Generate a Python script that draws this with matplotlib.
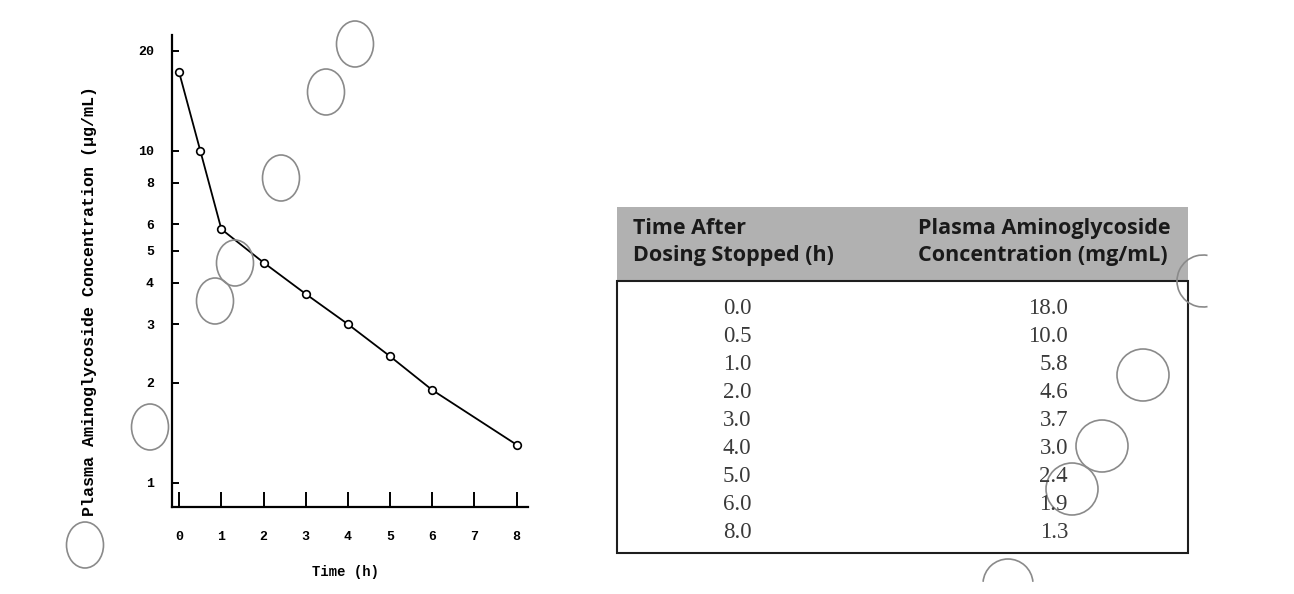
import matplotlib
matplotlib.use("Agg")
import matplotlib.pyplot as plt
from matplotlib.patches import Ellipse, Arc, Rectangle

# --- data ---
time_h = [0.0, 0.5, 1.0, 2.0, 3.0, 4.0, 5.0, 6.0, 8.0]
conc_plot = [17.2, 10.0, 5.8, 4.6, 3.7, 3.0, 2.4, 1.9, 1.3]   # as drawn on the graph
conc_table = [18.0, 10.0, 5.8, 4.6, 3.7, 3.0, 2.4, 1.9, 1.3]  # as listed in the table
x_ticks = [0, 1, 2, 3, 4, 5, 6, 7, 8]
y_ticks = [1, 2, 3, 4, 5, 6, 8, 10, 20]
table_header = ["Time After\nDosing Stopped (h)",
                "Plasma Aminoglycoside\nConcentration (mg/mL)"]

W, H = 1294, 594
fig = plt.figure(figsize=(W / 100, H / 100), dpi=100)
mono = "Liberation Mono"

# --- semilog plot ---
ax = fig.add_axes([172 / W, 1 - 507 / H, 356 / W, 472 / H])
ax.plot(time_h, conc_plot, color="black", lw=1.3, marker="o", ms=5.5,
        mfc="white", mec="black", mew=1.2)
ax.set_yscale("log")
ax.set_xlim(-0.17, 8.27)
ax.set_ylim(0.844, 22.3)
ax.set_xticks(x_ticks)
ax.set_xticklabels([str(v) for v in x_ticks])
ax.set_yticks(y_ticks)
ax.set_yticklabels([str(v) for v in y_ticks])
ax.minorticks_off()
ax.spines["top"].set_visible(False)
ax.spines["right"].set_visible(False)
for s in ("left", "bottom"):
    ax.spines[s].set_linewidth(1.6)
ax.tick_params(axis="x", direction="in", length=11, width=1.4, pad=17)
ax.tick_params(axis="y", direction="in", length=5, width=1.4, pad=13)
for lab in ax.get_xticklabels() + ax.get_yticklabels():
    lab.set_family(mono)
    lab.set_fontweight("bold")
    lab.set_fontsize(9.5)
fig.text(345 / W, 1 - 572 / H, "Time (h)", family=mono, weight="bold",
         fontsize=10, ha="center", va="center")
fig.text(90 / W, 1 - 301 / H, "Plasma Aminoglycoside Concentration (\u03bcg/mL)",
         family=mono, weight="bold", fontsize=12, rotation=90,
         ha="center", va="center")

# --- overlay in pixel coordinates: table and stray circles ---
ov = fig.add_axes([0, 0, 1, 1], facecolor="none")
ov.set_xlim(0, W)
ov.set_ylim(H, 0)
ov.axis("off")

tx0, tx1, ty0, ty_head, ty1 = 617, 1188, 207, 281, 553
ov.add_patch(Rectangle((tx0, ty0), tx1 - tx0, ty_head - ty0,
                       facecolor="#b1b1b1", edgecolor="none"))
ov.add_patch(Rectangle((tx0, ty_head), tx1 - tx0, ty1 - ty_head,
                       facecolor="white", edgecolor="#1e1e1e", lw=1.5))
head_style = dict(family="Open Sans", weight="bold", fontsize=15.5,
                  va="center", linespacing=1.4, color="#1a1a1a")
ov.text(633, 242, table_header[0], ha="left", **head_style)
ov.text(918, 242, table_header[1], ha="left", **head_style)
row_y0, row_step = 309, 28
for i, (t, c) in enumerate(zip(time_h, conc_table)):
    y = row_y0 + i * row_step
    ov.text(737, y, f"{t:.1f}", family="Liberation Serif", fontsize=16.5,
            ha="center", va="center", color="#3a3a3a")
    ov.text(1068, y, f"{c:.1f}", family="Liberation Serif", fontsize=16.5,
            ha="right", va="center", color="#3a3a3a")

ring = dict(fill=False, ec="#8a8a8a", lw=1.2)
for cx, cy in [(355, 44), (326, 92), (281, 178), (235, 263), (215, 301),
               (150, 427), (85, 545)]:
    ov.add_patch(Ellipse((cx, cy), 37, 46, **ring))
for cx, cy in [(1143, 375), (1102, 446), (1072, 489)]:
    ov.add_patch(Ellipse((cx, cy), 52, 52, **ring))
ov.add_patch(Arc((1203, 281), 52, 52, theta1=80, theta2=280, ec="#8a8a8a", lw=1.2))
ov.add_patch(Arc((1008, 584), 50, 50, theta1=185, theta2=355, ec="#8a8a8a", lw=1.2))

fig.savefig("out.png", dpi=100)
